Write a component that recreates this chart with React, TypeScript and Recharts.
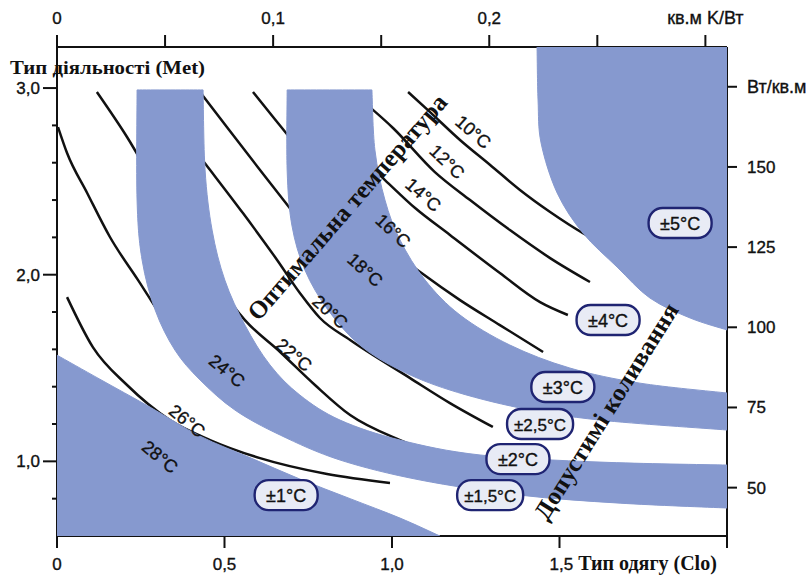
import React from 'react';
import { ComposedChart, Line, Scatter, XAxis, YAxis } from 'recharts';

const BLUE = '#8699cf';
const INK = '#111111';
const SANS = '"Liberation Sans", Arial, sans-serif';
const SERIF = '"Liberation Serif", "Times New Roman", serif';

type P = { clo: number; met: number };
const pts = (a: number[][]): P[] => a.map(([clo, met]) => ({ clo, met }));

// ---- shaded comfort bands (Clo, Met) ----
const bandCorner = pts([[0, 1.569], [0.128, 1.44], [0.278, 1.29], [0.427, 1.135], [0.576, 1.02], [0.725, 0.905], [0.875, 0.8], [1.024, 0.696], [1.143, 0.6], [0, 0.6]]);
const bandInner = pts([
  [0.436, 2.99], [0.442, 2.561], [0.463, 2.239], [0.501, 1.971], [0.561, 1.73], [0.636, 1.516], [0.725, 1.355], [0.845, 1.221], [1.024, 1.114], [1.263, 1.034], [1.621, 0.996], [2.0, 0.98],
  [2.0, 0.75], [1.681, 0.776], [1.382, 0.819], [1.084, 0.9], [0.845, 1.007], [0.666, 1.141], [0.531, 1.275], [0.427, 1.436], [0.352, 1.596], [0.293, 1.811], [0.254, 2.079], [0.239, 2.4], [0.239, 2.99],
]);
const bandMiddle = pts([
  [0.94, 2.99], [0.949, 2.668], [0.979, 2.4], [1.024, 2.186], [1.099, 1.971], [1.203, 1.784], [1.352, 1.623], [1.531, 1.5], [1.74, 1.419], [2.0, 1.366],
  [2.0, 1.168], [1.621, 1.221], [1.382, 1.286], [1.173, 1.382], [1.024, 1.489], [0.904, 1.623], [0.809, 1.811], [0.74, 2.025], [0.701, 2.266], [0.687, 2.561], [0.687, 2.99],
]);
const bandOuter = pts([[1.433, 3.22], [1.436, 2.936], [1.445, 2.706], [1.493, 2.438], [1.57, 2.223], [1.672, 2.041], [1.77, 1.875], [1.89, 1.768], [2.0, 1.704], [2.0, 3.22]]);
const bands = [bandCorner, bandInner, bandMiddle, bandOuter];
// indices of sharp vertices in each band outline (others are smoothed)
const bandSharp = [[0, 8, 9], [0, 11, 12, 24], [0, 9, 10, 20], [0, 8, 9]];

// ---- optimal temperature curves (Clo, Met) ----
const t10 = pts([[1.048, 2.979], [1.113, 2.872], [1.203, 2.722], [1.293, 2.588], [1.382, 2.454], [1.472, 2.336], [1.57, 2.223], [1.672, 2.132]]);
const t12 = pts([[0.884, 2.973], [1.003, 2.786], [1.128, 2.55], [1.233, 2.4], [1.352, 2.239], [1.472, 2.089], [1.591, 1.961]]);
const t14 = pts([[0.725, 2.979], [0.806, 2.818], [0.89, 2.657], [0.979, 2.507], [1.069, 2.357], [1.173, 2.213], [1.322, 2.009], [1.442, 1.853], [1.525, 1.784]]);
const t16 = pts([[0.585, 2.979], [0.645, 2.845], [0.725, 2.668], [0.806, 2.497], [0.89, 2.32], [0.979, 2.159], [1.084, 2.014], [1.203, 1.864], [1.322, 1.73], [1.451, 1.586]]);
const t18 = pts([[0.427, 2.979], [0.507, 2.791], [0.606, 2.561], [0.704, 2.336], [0.806, 2.105], [0.904, 1.918], [1.024, 1.757], [1.173, 1.569], [1.367, 1.382]]);
const t20 = pts([[0.272, 2.979], [0.358, 2.791], [0.457, 2.561], [0.555, 2.33], [0.657, 2.079], [0.725, 1.902], [0.785, 1.768], [0.875, 1.65], [1.054, 1.446], [1.173, 1.312], [1.301, 1.184]]);
const t22 = pts([[0.119, 2.979], [0.209, 2.738], [0.307, 2.438], [0.397, 2.186], [0.472, 1.971], [0.561, 1.757], [0.666, 1.586], [0.77, 1.409], [0.875, 1.248], [1.024, 1.114], [1.143, 1.034], [1.248, 0.996]]);
const t24 = pts([[0.003, 2.791], [0.03, 2.652], [0.09, 2.438], [0.158, 2.202], [0.242, 1.971], [0.337, 1.714], [0.427, 1.543], [0.546, 1.366], [0.696, 1.194], [0.875, 1.06], [1.024, 0.991], [1.194, 0.937]]);
const t26 = pts([[0.03, 1.88], [0.107, 1.612], [0.209, 1.409], [0.337, 1.221], [0.457, 1.114], [0.606, 1.017], [0.806, 0.932], [0.994, 0.884]]);
const t28 = pts([[0.03, 1.157], [0.158, 1.044], [0.307, 0.937], [0.427, 0.884], [0.54, 0.851]]);
const curves = [t10, t12, t14, t16, t18, t20, t22, t24, t26, t28];

// ---- labels ----
const curveLabels = [
  { clo: 1.242, met: 2.764, text: '10°C', angle: 41 },
  { clo: 1.164, met: 2.604, text: '12°C', angle: 44 },
  { clo: 1.093, met: 2.427, text: '14°C', angle: 41 },
  { clo: 1.003, met: 2.234, text: '16°C', angle: 43 },
  { clo: 0.919, met: 2.025, text: '18°C', angle: 42 },
  { clo: 0.815, met: 1.8, text: '20°C', angle: 42 },
  { clo: 0.707, met: 1.569, text: '22°C', angle: 40 },
  { clo: 0.507, met: 1.484, text: '24°C', angle: 39 },
  { clo: 0.388, met: 1.216, text: '26°C', angle: 39 },
  { clo: 0.307, met: 1.023, text: '28°C', angle: 39 },
];
const toleranceBoxes = [
  { clo: 1.86, met: 2.277, text: '±5°C' },
  { clo: 1.645, met: 1.757, text: '±4°C' },
  { clo: 1.51, met: 1.398, text: '±3°C' },
  { clo: 1.442, met: 1.2, text: '±2,5°C' },
  { clo: 1.376, met: 1.012, text: '±2°C' },
  { clo: 1.293, met: 0.819, text: '±1,5°C' },
  { clo: 0.684, met: 0.819, text: '±1°C' },
];
const titles = [
  { clo: 0.866, met: 2.363, text: 'Оптимальна температура', angle: -49, len: 290 },
  { clo: 1.639, met: 1.269, text: 'Допустимі коливання', angle: -58, len: 250 },
];

// ---- axes ----
const cloTicks = [0, 0.5, 1, 1.5, 2];
const cloTickLabels: Record<string, string> = { '0': '0', '0.5': '0,5', '1': '1,0', '1.5': '1,5' };
const insulationTicks = [0, 0.05, 0.1, 0.15, 0.2, 0.25, 0.3];
const insulationLabels: Record<string, string> = { '0': '0', '0.1': '0,1', '0.2': '0,2', '0.3': 'кв.м K/Вт' };
const insulationRange = [{ ins: 0, w: 50 }, { ins: 0.31, w: 175 }];
const metTicks = [0.8, 1, 1.2, 1.4, 1.6, 1.8, 2, 2.2, 2.4, 2.6, 2.8, 3];
const metLabels: Record<string, string> = { '1': '1,0', '2': '2,0', '3': '3,0' };
const wattTicks = [50, 75, 100, 125, 150, 175];
const wattLabels: Record<string, string> = { '50': '50', '75': '75', '100': '100', '125': '125', '150': '150', '175': 'Вт/кв.м' };

const txt = { fill: INK, fontFamily: SANS, stroke: INK, strokeWidth: 0.35 };

const BottomTick = (p: any) => {
  const { x, y, payload } = p;
  const lab = cloTickLabels[String(payload.value)];
  return (
    <g>
      <line x1={x} y1={y} x2={x} y2={y + 12} stroke={INK} strokeWidth={2} />
      {lab && payload.value === 1.5 ? (
        <text x={x - 10} y={y + 34} fontSize={17} {...txt}>
          {lab}
          <tspan fontFamily={SERIF} fontWeight="bold" fontSize={20} strokeWidth={0}> Тип одягу (Clo)</tspan>
        </text>
      ) : lab ? (
        <text x={x} y={y + 34} textAnchor="middle" fontSize={17} {...txt}>{lab}</text>
      ) : null}
    </g>
  );
};

const TopTick = (p: any) => {
  const { x, y, payload } = p;
  const lab = insulationLabels[String(payload.value)];
  return (
    <g>
      <line x1={x} y1={y} x2={x} y2={y - 12} stroke={INK} strokeWidth={2} />
      {lab && (
        <text x={x} y={y - 23} textAnchor="middle" fontSize={payload.value === 0.3 ? 18 : 17} {...txt}>{lab}</text>
      )}
    </g>
  );
};

const LeftTick = (p: any) => {
  const { x, y, payload } = p;
  const lab = metLabels[String(payload.value)];
  return (
    <g>
      <line x1={x} y1={y} x2={x - (lab ? 14 : 5)} y2={y} stroke={INK} strokeWidth={2} />
      {lab && (
        <text x={x - 17} y={y + 6} textAnchor="end" fontSize={17} {...txt}>{lab}</text>
      )}
    </g>
  );
};

const RightTick = (p: any) => {
  const { x, y, payload } = p;
  const lab = wattLabels[String(payload.value)];
  return (
    <g>
      <line x1={x} y1={y} x2={x + 10} y2={y} stroke={INK} strokeWidth={2} />
      <text x={x + 20} y={y + 6} fontSize={payload.value === 175 ? 18 : 17} {...txt}>{lab}</text>
    </g>
  );
};

type XY = { x: number; y: number };
// smooth outline: Catmull-Rom through runs of points between sharp vertices
const smoothPath = (p: XY[], sharp: number[]) => {
  const n = p.length;
  const isSharp = (i: number) => sharp.includes(i % n);
  let d = `M${p[0].x},${p[0].y}`;
  let i = 0;
  while (i < n) {
    // collect run from i to next sharp vertex
    let j = i + 1;
    while (j < n && !isSharp(j)) j++;
    const run: XY[] = [];
    for (let k = i; k <= j; k++) run.push(p[k % n]);
    for (let k = 0; k < run.length - 1; k++) {
      const p0 = run[k - 1] || run[k];
      const p1 = run[k];
      const p2 = run[k + 1];
      const p3 = run[k + 2] || run[k + 1];
      const c1x = p1.x + (p2.x - p0.x) / 6;
      const c1y = p1.y + (p2.y - p0.y) / 6;
      const c2x = p2.x - (p3.x - p1.x) / 6;
      const c2y = p2.y - (p3.y - p1.y) / 6;
      d += `C${c1x},${c1y} ${c2x},${c2y} ${p2.x},${p2.y}`;
    }
    i = j;
  }
  return d + 'Z';
};

const makeBand = (sharp: number[]) => (lp: any) => {
  const list = (lp.points || []) as XY[];
  if (!list.length) return <g />;
  return <path d={smoothPath(list, sharp)} fill={BLUE} stroke={BLUE} strokeWidth={1} />;
};

const empty = () => <g />;

const CurveLabel = (p: any) => {
  const { cx, cy, payload } = p;
  return (
    <text x={cx} y={cy} transform={`rotate(${payload.angle} ${cx} ${cy})`} textAnchor="middle" dominantBaseline="central" fontSize={18} {...txt}>
      {payload.text}
    </text>
  );
};

const Box = (p: any) => {
  const { cx, cy, payload } = p;
  const w = payload.text.length > 4 ? 66 : 63;
  return (
    <g>
      <rect x={cx - w / 2} y={cy - 15} width={w} height={30} rx={14} ry={14} fill="#e8ebf5" stroke="#1f2472" strokeWidth={2.4} />
      <text x={cx} y={cy + 1} textAnchor="middle" dominantBaseline="central" fontSize={payload.text.length > 4 ? 17 : 18} {...txt}>{payload.text}</text>
    </g>
  );
};

const Title = (p: any) => {
  const { cx, cy, payload } = p;
  return (
    <text x={cx} y={cy} transform={`rotate(${payload.angle} ${cx} ${cy})`} textAnchor="middle" dominantBaseline="central" fill={INK} fontSize={25} fontWeight="bold" fontFamily={SERIF} textLength={payload.len} lengthAdjust="spacingAndGlyphs">
      {payload.text}
    </text>
  );
};

const MetTitle = (p: any) => {
  const vb = p.viewBox || { x: 0, y: 47 };
  return (
    <text x={vb.x + 10} y={vb.y + 27} fill={INK} fontSize={19} fontWeight="bold" fontFamily={SERIF} textLength={195} lengthAdjust="spacingAndGlyphs">Тип діяльності (Met)</text>
  );
};

export default function App() {
  const axisLine = { stroke: INK, strokeWidth: 2 };
  return (
    <div style={{ position: 'absolute', left: 0, top: 0, background: '#fff' }}>
      <ComposedChart width={811} height={576} margin={{ top: 0, right: 0, bottom: 0, left: 0 }}>
        <XAxis xAxisId="clo" dataKey="clo" type="number" domain={[0, 2]} allowDataOverflow ticks={cloTicks} interval={0} orientation="bottom" height={40} axisLine={axisLine} tickLine={false} tickSize={0} tickMargin={0} tick={<BottomTick />} />
        <XAxis xAxisId="top" dataKey="ins" type="number" domain={[0, 0.31]} allowDataOverflow ticks={insulationTicks} interval={0} orientation="top" height={47} axisLine={axisLine} tickLine={false} tickSize={0} tickMargin={0} tick={<TopTick />} />
        <YAxis yAxisId="met" dataKey="met" type="number" domain={[0.6, 3.22]} allowDataOverflow ticks={metTicks} interval={0} orientation="left" width={57} axisLine={axisLine} tickLine={false} tickSize={0} tickMargin={0} tick={<LeftTick />} label={{ content: <MetTitle /> }} />
        <YAxis yAxisId="w" type="number" domain={[34.92, 187.4]} allowDataOverflow ticks={wattTicks} interval={0} orientation="right" width={84} axisLine={axisLine} tickLine={false} tickSize={0} tickMargin={0} tick={<RightTick />} />

        <Line xAxisId="top" yAxisId="w" data={insulationRange} dataKey="w" stroke="none" dot={false} activeDot={false} isAnimationActive={false} />
        {bands.map((b, i) => (
          <Scatter key={'band' + i} xAxisId="clo" yAxisId="met" data={b} line={makeBand(bandSharp[i])} lineType="joint" shape={empty} fill={BLUE} isAnimationActive={false} />
        ))}
        {curves.map((c, i) => (
          <Line key={'t' + i} xAxisId="clo" yAxisId="met" data={c} dataKey="met" type="monotone" stroke={INK} strokeWidth={2.5} dot={false} activeDot={false} isAnimationActive={false} />
        ))}
        <Scatter xAxisId="clo" yAxisId="met" data={curveLabels} shape={CurveLabel} isAnimationActive={false} />
        <Scatter xAxisId="clo" yAxisId="met" data={titles} shape={Title} isAnimationActive={false} />
        <Scatter xAxisId="clo" yAxisId="met" data={toleranceBoxes} shape={Box} isAnimationActive={false} />
      </ComposedChart>
    </div>
  );
}
